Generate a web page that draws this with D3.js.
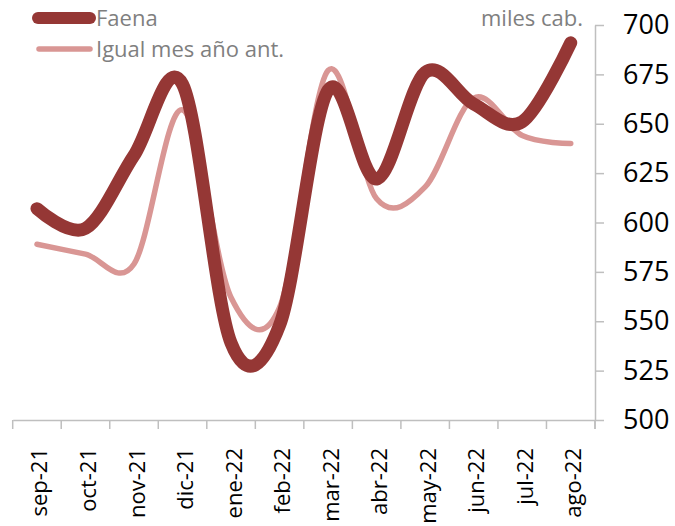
<!DOCTYPE html>
<html>
<head>
<meta charset="utf-8">
<script src="https://cdn.jsdelivr.net/npm/d3@7"></script>
<style>
  body { margin: 0; background: #fff; }
  text { font-family: "Open Sans", "Noto Sans", sans-serif; }
</style>
</head>
<body>
<div id="chart"></div>
<script>
// months shown on the x axis
var months = ["sep-21", "oct-21", "nov-21", "dic-21", "ene-22", "feb-22",
              "mar-22", "abr-22", "may-22", "jun-22", "jul-22", "ago-22"];

// faena, miles de cabezas
var faena = [607, 597, 634, 670, 539, 548, 667, 622, 676, 660, 651, 691];

// same month previous year
var anterior = [589, 584, 579, 657, 562, 557, 677, 612, 618, 663, 644, 640];

var yTicks = [500, 525, 550, 575, 600, 625, 650, 675, 700];

var width = 675, height = 526;
// plot box (window.top is reserved, so keep these in an object)
var box = {left: 12.7, right: 595, top: 25, bottom: 420};

var svg = d3.select("#chart").append("svg")
    .attr("width", width)
    .attr("height", height);

var x = d3.scaleBand()
    .domain(months)
    .range([box.left, box.right]);

var y = d3.scaleLinear()
    .domain([500, 700])
    .range([box.bottom, box.top]);

// x axis
var xAxis = svg.append("g")
    .attr("transform", "translate(0," + box.bottom + ")")
    .call(d3.axisBottom(x).tickSize(0).tickSizeOuter(0));

xAxis.select(".domain").attr("stroke", "#bfbfbf").attr("stroke-width", 1.5);

// category separators, Excel style
xAxis.selectAll(".sep")
    .data(months.concat(["end"]))
    .enter().append("line")
    .attr("class", "sep")
    .attr("x1", function(d, i) { return box.left + i * x.step(); })
    .attr("x2", function(d, i) { return box.left + i * x.step(); })
    .attr("y1", 0)
    .attr("y2", 9)
    .attr("stroke", "#bfbfbf")
    .attr("stroke-width", 1.5);

xAxis.selectAll(".tick text")
    .attr("transform", "rotate(-90)")
    .attr("text-anchor", "end")
    .attr("x", -28)
    .attr("y", 10.5)
    .attr("dy", 0)
    .style("font-size", "22px")
    .style("fill", "#000");

// y axis on the right
var yAxis = svg.append("g")
    .attr("transform", "translate(" + box.right + ",0)")
    .call(d3.axisRight(y).tickValues(yTicks).tickSize(9).tickSizeOuter(0).tickPadding(19));

yAxis.select(".domain").attr("stroke", "#bfbfbf").attr("stroke-width", 1.5);
yAxis.selectAll(".tick line").attr("stroke", "#bfbfbf").attr("stroke-width", 1.5);
yAxis.selectAll(".tick text")
    .style("font-size", "27px")
    .style("fill", "#000");

// little stub of the y axis below the x axis
svg.append("line")
    .attr("x1", box.right).attr("x2", box.right)
    .attr("y1", box.bottom).attr("y2", box.bottom + 9)
    .attr("stroke", "#bfbfbf").attr("stroke-width", 1.5);

var line = d3.line()
    .x(function(d, i) { return x(months[i]) + x.bandwidth() / 2; })
    .y(function(d) { return y(d); })
    .curve(d3.curveCardinal.tension(0));

svg.append("path")
    .datum(anterior)
    .attr("d", line)
    .attr("fill", "none")
    .attr("stroke", "#d99694")
    .attr("stroke-width", 5.5)
    .attr("stroke-linecap", "round");

svg.append("path")
    .datum(faena)
    .attr("d", line)
    .attr("fill", "none")
    .attr("stroke", "#953735")
    .attr("stroke-width", 13)
    .attr("stroke-linecap", "round")
    .attr("stroke-linejoin", "round");

// legend
var legend = [
    {name: "Faena", color: "#953735", w: 12, y: 18, x1: 38},
    {name: "Igual mes año ant.", color: "#d99694", w: 5.5, y: 49, x1: 39}
];

var lg = svg.selectAll(".legend")
    .data(legend)
    .enter().append("g")
    .attr("class", "legend");

lg.append("line")
    .attr("x1", function(d) { return d.x1; })
    .attr("x2", 90)
    .attr("y1", function(d) { return d.y; })
    .attr("y2", function(d) { return d.y; })
    .attr("stroke", function(d) { return d.color; })
    .attr("stroke-width", function(d) { return d.w; })
    .attr("stroke-linecap", "round");

lg.append("text")
    .attr("x", 96)
    .attr("y", function(d) { return d.y + 8; })
    .style("font-size", "22px")
    .style("fill", "#7f7f7f")
    .text(function(d) { return d.name; });

svg.append("text")
    .attr("x", 583)
    .attr("y", 26)
    .attr("text-anchor", "end")
    .style("font-size", "22px")
    .style("fill", "#7f7f7f")
    .text("miles cab.");
</script>
</body>
</html>
